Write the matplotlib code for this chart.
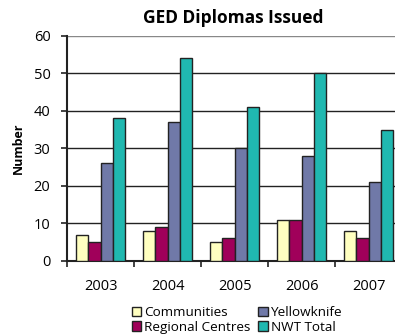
import numpy as np
import matplotlib.pyplot as plt

years = ["2003", "2004", "2005", "2006", "2007"]
series_names = ["Communities", "Regional Centres", "Yellowknife", "NWT Total"]
communities = [7, 8, 5, 11, 8]
regional = [5, 9, 6, 11, 6]
yellowknife = [26, 37, 30, 28, 21]
nwt_total = [38, 54, 41, 50, 35]
colors = ["#FFFFC0", "#A0005A", "#7079A8", "#20B8B0"]

plt.rcParams['font.family'] = ['Open Sans', 'DejaVu Sans']

fig = plt.figure(figsize=(3.95, 3.35), dpi=100)
ax = fig.add_axes([0.17, 0.221, 0.848, 0.672])

x = np.arange(len(years))
width = 0.183
values = [communities, regional, yellowknife, nwt_total]
for i, (vals, name, c) in enumerate(zip(values, series_names, colors)):
    ax.bar(x - 1.5 * width + i * width, vals, width, color=c, edgecolor="#222222",
           linewidth=1.0, label=name, zorder=3)

ax.set_xlim(-0.5, len(years) - 0.5)
ax.set_ylim(0, 60)
ax.set_yticks(range(0, 61, 10))
ax.yaxis.grid(True, color="#222222", linewidth=1.0, zorder=0)
ax.set_xticks(x)
ax.set_xticklabels(years, fontsize=10.5)
ax.set_xticks(np.arange(-0.5, len(years), 1), minor=True)
ax.tick_params(axis="x", which="major", length=0, pad=13)
ax.tick_params(axis="x", which="minor", length=4, width=1.2, color="#222222")
ax.tick_params(axis="y", length=4, width=1.2, color="#222222", labelsize=10.5, pad=8)
ax.get_ygridlines()[-1].set_color("#888888")

for s in ["top", "right"]:
    ax.spines[s].set_visible(False)
ax.spines["left"].set_linewidth(1.5)
ax.spines["bottom"].set_linewidth(1.5)
ax.spines["left"].set_color("#222222")
ax.spines["bottom"].set_color("#222222")

ax.set_ylabel("Number", fontsize=9, fontweight="bold", labelpad=6)
fig.text(0.59, 0.945, "GED Diplomas Issued", ha="center", va="center",
         fontsize=12.5, fontweight="bold")

fig.legend(loc="center", bbox_to_anchor=(0.6, 0.045), ncol=2, frameon=False,
           fontsize=9.7, handlelength=0.7, handleheight=0.7, handletextpad=0.2,
           columnspacing=0.6, labelspacing=0.1, borderpad=0)

plt.savefig("out.png", dpi=100)
